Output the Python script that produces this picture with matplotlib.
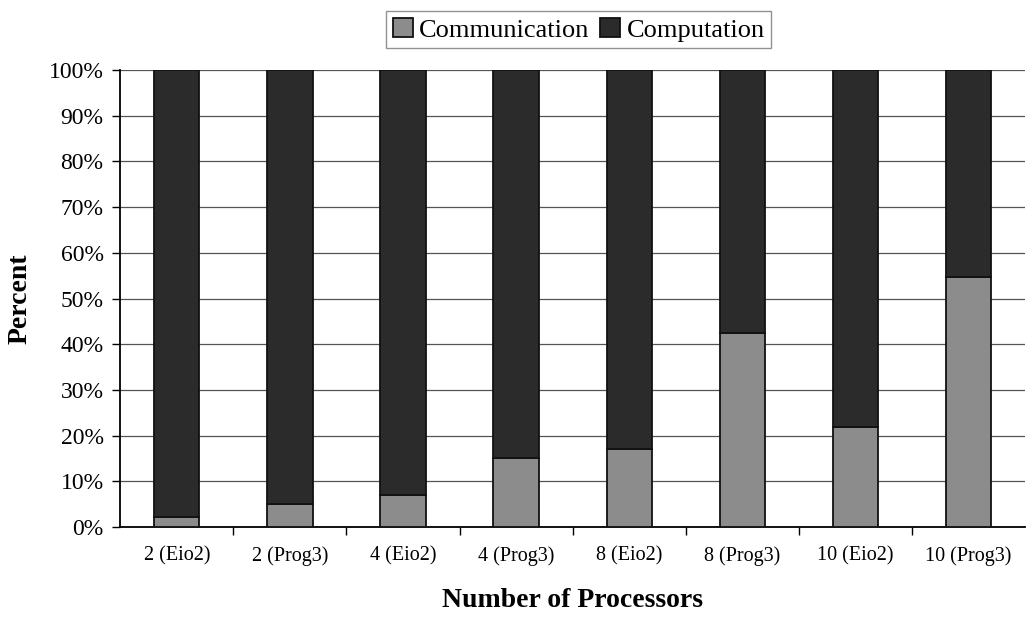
import matplotlib
matplotlib.use('Agg')
import matplotlib.pyplot as plt
import numpy as np
from matplotlib.ticker import FixedLocator, PercentFormatter

labels = ['2 (Eio2)', '2 (Prog3)', '4 (Eio2)', '4 (Prog3)',
          '8 (Eio2)', '8 (Prog3)', '10 (Eio2)', '10 (Prog3)']
communication = [2.2, 5.0, 7.0, 15.2, 17.0, 42.5, 21.8, 54.8]
computation = [100 - c for c in communication]

plt.rcParams['font.family'] = ['Liberation Serif', 'DejaVu Serif']

fig = plt.figure(figsize=(10.28, 6.2), dpi=100)
ax = fig.add_axes([0.117, 0.15, 0.88, 0.737])

x = np.arange(len(labels))
width = 0.4
ax.bar(x, communication, width, color='#8c8c8c', edgecolor='#111111',
       linewidth=1.3, label='Communication', zorder=3)
ax.bar(x, computation, width, bottom=communication, color='#2b2b2b',
       edgecolor='#111111', linewidth=1.3, label='Computation', zorder=3)

ax.set_xlim(-0.5, len(labels) - 0.5)
ax.set_ylim(0, 100)
ax.set_yticks(np.arange(0, 101, 10))
ax.yaxis.set_major_formatter(PercentFormatter(decimals=0))
ax.yaxis.grid(True, color='#555555', linewidth=0.9, zorder=0)

# category labels centred, tick marks between the categories
ax.set_xticks(x)
ax.set_xticklabels(labels, fontsize=14.5)
ax.xaxis.set_minor_locator(FixedLocator(np.arange(0.5, len(labels) - 0.5, 1)))
ax.tick_params(axis='x', which='major', length=0, pad=14)
ax.tick_params(axis='x', which='minor', length=6, width=1, direction='out')
ax.tick_params(axis='y', labelsize=17, length=6, width=1, direction='out', pad=6)

for side in ['top', 'right']:
    ax.spines[side].set_visible(False)
ax.spines['left'].set_linewidth(1.3)
ax.spines['bottom'].set_linewidth(1.3)

ax.set_xlabel('Number of Processors', fontsize=20, fontweight='bold', labelpad=16)
ax.set_ylabel('Percent', fontsize=20, fontweight='bold', labelpad=12)

leg = fig.legend(loc='upper center', bbox_to_anchor=(0.563, 1.003), ncol=2,
                 fontsize=19, frameon=True, fancybox=False, handlelength=0.75,
                 handleheight=0.75, handletextpad=0.25, columnspacing=0.4,
                 borderpad=0.25, edgecolor='#777777')
leg.get_frame().set_linewidth(1.0)

fig.savefig('out.png', dpi=100)
